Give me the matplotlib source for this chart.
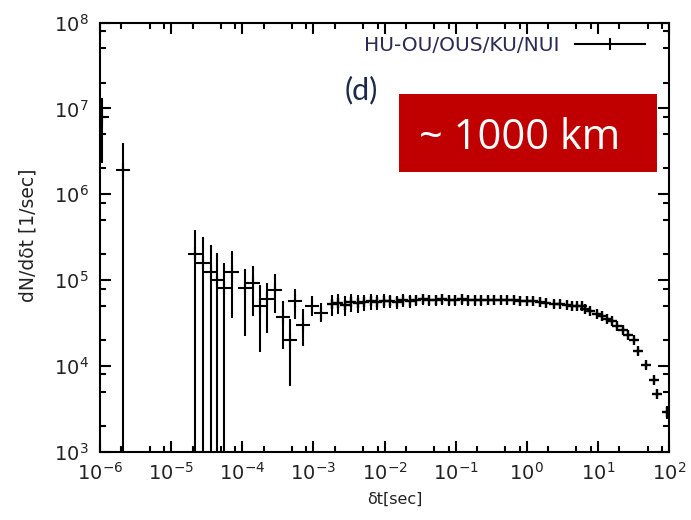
import numpy as np
import matplotlib
matplotlib.use("Agg")
import matplotlib.pyplot as plt
from matplotlib.lines import Line2D
from matplotlib.patches import Rectangle
from matplotlib.ticker import LogLocator, NullFormatter

# short intervals: few events, large error bars (lower end 1 => below the axis)
dt_short = [1.05e-6, 2.13e-6, 2.17e-5, 2.81e-5, 3.64e-5, 4.42e-5, 5.55e-5,
            7.19e-5, 1.09e-4, 1.41e-4, 1.78e-4, 2.21e-4, 2.89e-4, 3.72e-4,
            4.70e-4, 5.53e-4, 7.24e-4, 9.50e-4, 1.27e-3]
rate_short = [8.0e6, 1.93e6, 2.03e5, 1.6e5, 1.26e5, 1.01e5, 8.2e4,
              1.26e5, 8.2e4, 9.4e4, 4.95e4, 6.0e4, 7.6e4, 3.73e4,
              2.0e4, 5.8e4, 3.04e4, 4.95e4, 4.2e4]
rate_short_lo = [2.3e6, 1, 1, 1, 1, 1, 1,
                 3.66e4, 2.22e4, 3.86e4, 1.45e4, 2.43e4, 4.2e4, 1.58e4,
                 5.9e3, 3.5e4, 1.7e4, 3.8e4, 3.3e4]
rate_short_hi = [1.32e7, 4.0e6, 3.87e5, 3.2e5, 2.59e5, 2.09e5, 1.6e5,
                 2.2e5, 1.35e5, 1.45e5, 8.9e4, 9.4e4, 1.18e5, 5.8e4,
                 3.54e4, 7.8e4, 4.6e4, 6.6e4, 5.5e4]

# plateau and tail
dt_long = [1.82e-3, 2.22e-3, 2.75e-3, 3.39e-3, 4.19e-3, 5.16e-3, 6.38e-3, 7.87e-3, 9.70e-3, 1.20e-2,
           1.48e-2, 1.83e-2, 2.25e-2, 2.78e-2, 3.43e-2, 4.24e-2, 5.24e-2, 6.46e-2, 7.98e-2, 9.84e-2,
           0.121, 0.150, 0.185, 0.229, 0.282, 0.348, 0.430, 0.530, 0.654, 0.807,
           0.997, 1.23, 1.52, 1.87, 2.38, 2.95, 3.66, 4.31, 5.1, 5.96,
           6.62, 7.79, 9.69, 11.4, 13.4, 15.7, 18.5, 22.9, 26.9, 31.7,
           37.2, 47.8, 61.9, 68.9, 93.3]
rate_long = [5.3e4, 5.5e4, 5.2e4, 5.6e4, 5.4e4, 5.6e4, 5.7e4, 5.6e4, 5.8e4, 5.7e4,
             5.6e4, 5.9e4, 5.8e4, 5.9e4, 6.0e4, 5.9e4, 5.9e4, 6.0e4, 5.9e4, 5.9e4,
             6.0e4, 5.9e4, 5.9e4, 5.9e4, 5.9e4, 5.9e4, 5.9e4, 5.9e4, 5.9e4, 5.8e4,
             5.8e4, 5.7e4, 5.6e4, 5.5e4, 5.33e4, 5.33e4, 5.19e4, 5.05e4, 5.0e4, 4.96e4,
             4.62e4, 4.34e4, 4.08e4, 3.86e4, 3.54e4, 3.32e4, 2.96e4, 2.66e4, 2.32e4, 2.0e4,
             1.49e4, 1.04e4, 6.97e3, 4.75e3, 2.91e3]
rate_long_err = [1.5e4, 1.5e4, 1.4e4, 1.3e4, 1.3e4, 1.2e4, 1.2e4, 1.1e4, 1.1e4, 1.0e4,
                 1.0e4, 1.0e4, 1.0e4, 9e3, 9e3, 9e3, 9e3, 9e3, 9e3, 9e3,
                 9e3, 9e3, 9e3, 9e3, 8e3, 8e3, 8e3, 8e3, 8e3, 8e3,
                 8e3, 7e3, 7e3, 7e3, 6e3, 6e3, 5e3, 5e3, 5e3, 4e3,
                 4e3, 4e3, 3e3, 3e3, 3e3, 2.5e3, 2e3, 2e3, 2e3, 1.5e3,
                 1.2e3, 900, 700, 600, 500]

W, H = 691, 520
fig = plt.figure(figsize=(W / 100, H / 100), dpi=100)
ax = fig.add_axes([100 / W, 1 - 452 / H, 569 / W, 429.5 / H])

rs = np.array(rate_short)
yerr_short = [rs - np.array(rate_short_lo), np.array(rate_short_hi) - rs]
ax.errorbar(dt_short, rate_short, yerr=yerr_short, fmt='+', color='k',
            ms=10, mew=1.5, elinewidth=1.5, capsize=0)
ax.errorbar(dt_long, rate_long, yerr=rate_long_err, fmt='+', color='k',
            ms=7.5, mew=1.7, elinewidth=1.5, capsize=0)

ax.set_xscale('log')
ax.set_yscale('log')
ax.set_xlim(1e-6, 1e2)
ax.set_ylim(1e3, 1e8)
for axis in (ax.xaxis, ax.yaxis):
    axis.set_major_locator(LogLocator(base=10, numticks=20))
    axis.set_minor_locator(LogLocator(base=10, subs=[2, 5, 8], numticks=20))
    axis.set_minor_formatter(NullFormatter())

ax.tick_params(which='both', direction='in', top=True, right=True, width=1.5,
               labelsize=14, labelcolor='#222222')
ax.tick_params(which='major', length=8)
ax.tick_params(which='minor', length=4.5)
ax.tick_params(axis='x', pad=7)
ax.tick_params(axis='y', pad=8)
for s in ax.spines.values():
    s.set_linewidth(1.5)

ax.set_xlabel('δt[sec]', fontsize=11.5, color='#222222')
ax.xaxis.set_label_coords((395 - 100) / 569, -(492 - 452) / 429.5)
ax.set_ylabel('dN/dδt [1/sec]', fontsize=13.5, color='#222222')
ax.yaxis.set_label_coords((38 - 100) / 569, (452 - 235) / 429.5)

h = Line2D([], [], color='k', lw=1.5, marker='|', ms=8, mew=1.5)
ax.legend([h], ['HU-OU/OUS/KU/NUI'], loc='upper right',
          bbox_to_anchor=((645 - 100) / 569, (452 - 36) / 429.5),
          frameon=False, markerfirst=False, fontsize=14.5, labelcolor='#2b2b55',
          handlelength=3.5, handletextpad=0.75, borderaxespad=0, borderpad=0)

fig.text(361 / W, 1 - 90 / H, '(d)', ha='center', va='center', fontsize=22,
         color='#1c2a4a', family='Lato')

fig.add_artist(Rectangle((399 / W, 1 - 171.7 / H), (656.7 - 399) / W, (171.7 - 94.3) / H,
                         transform=fig.transFigure, facecolor='#c00000', edgecolor='none'))
fig.text(419 / W, 1 - 149 / H, '~ 1000 km', ha='left', va='baseline', fontsize=30,
         color='white', family='Open Sans')

fig.savefig('out.png', dpi=100)
